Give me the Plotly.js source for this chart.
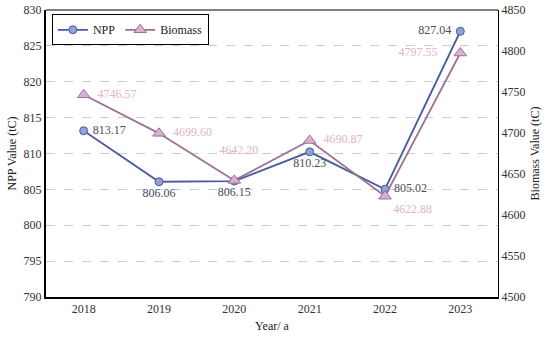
<!DOCTYPE html>
<html><head><meta charset="utf-8">
<script src="https://cdn.plot.ly/plotly-3.0.1.min.js"></script>
<style>body{margin:0;background:#fff}#c{width:550px;height:337px}</style>
</head><body><div id="c"></div>
<script>
const years = ['2018','2019','2020','2021','2022','2023'];
const npp = [813.17, 806.06, 806.15, 810.23, 805.02, 827.04];
const biomass = [4746.57, 4699.60, 4642.20, 4690.87, 4622.88, 4797.55];
const nppPos = ['middle right','bottom center','bottom center','bottom center','middle right','middle left'];
const bioPos = ['middle right','middle right','top center','middle right','bottom right','middle left'];
const nppPad = [[' ', ''], ['', ''], ['', ''], ['', ''], [' ', ''], ['', ' ']];
const bioPad = [['  ', ''], ['  ', ''], ['   ', '<br> '], ['  ', ''], ['', ''], ['', '     ']];
const F = "'Liberation Serif', serif";
const traces = [
  {x: years, y: npp, name: 'NPP', type: 'scatter', mode: 'lines+markers+text',
   line: {color: '#4a5c9c', width: 1.8},
   marker: {symbol: 'circle', size: 8, color: '#8fa2d8', line: {color: '#4a5c9c', width: 1}},
   text: npp.map((v, i) => nppPad[i][0] + v.toFixed(2) + nppPad[i][1]), textposition: nppPos,
   textfont: {family: F, size: 12, color: '#4a4a5e'}},
  {x: years, y: biomass, name: 'Biomass', type: 'scatter', mode: 'lines+markers+text', yaxis: 'y2',
   line: {color: '#9a7294', width: 1.8},
   marker: {symbol: 'triangle-up', size: 11, color: '#d8b2d0', line: {color: '#9a7294', width: 1}},
   text: biomass.map((v, i) => bioPad[i][0] + v.toFixed(2) + bioPad[i][1]), textposition: bioPos,
   textfont: {family: F, size: 12, color: '#e2b4c4'}}
];
const layout = {
  width: 550, height: 337,
  margin: {l: 46, r: 52, t: 10, b: 40},
  paper_bgcolor: '#fff', plot_bgcolor: '#fff',
  font: {family: F, size: 12, color: '#333'},
  showlegend: true,
  legend: {x: 0.013, y: 0.985, xanchor: 'left', yanchor: 'top', orientation: 'h',
           bordercolor: '#000', borderwidth: 1, tracegroupgap: 0,
           font: {family: F, size: 12, color: '#222'}},
  xaxis: {type: 'category', range: [-0.5, 5.5], showgrid: false, ticks: '',
          showline: true, linecolor: '#000', linewidth: 2, mirror: false,
          title: {text: 'Year/ a', font: {family: F, size: 12, color: '#222'}, standoff: 6},
          tickfont: {family: F, size: 12, color: '#333'}},
  yaxis: {range: [790, 830], dtick: 5, showgrid: true, gridcolor: '#cccccc', griddash: 'dash', gridwidth: 1,
          showline: true, linecolor: '#000', linewidth: 2, ticks: '', zeroline: false,
          title: {text: 'NPP Value (tC)', font: {family: F, size: 12, color: '#222'}, standoff: 4},
          tickfont: {family: F, size: 12, color: '#333'}},
  yaxis2: {range: [4500, 4850], dtick: 50, overlaying: 'y', side: 'right', showgrid: false,
           showline: true, linecolor: '#000', linewidth: 1, ticks: '', zeroline: false,
           title: {text: 'Biomass Value (tC)', font: {family: F, size: 12, color: '#222'}, standoff: 6},
           tickfont: {family: F, size: 12, color: '#333'}},
  shapes: [{type: 'line', xref: 'paper', yref: 'paper', x0: 0, x1: 1, y0: 1, y1: 1, line: {color: '#000', width: 1}}]
};
Plotly.newPlot('c', traces, layout, {displayModeBar: false, staticPlot: true});
</script></body></html>
